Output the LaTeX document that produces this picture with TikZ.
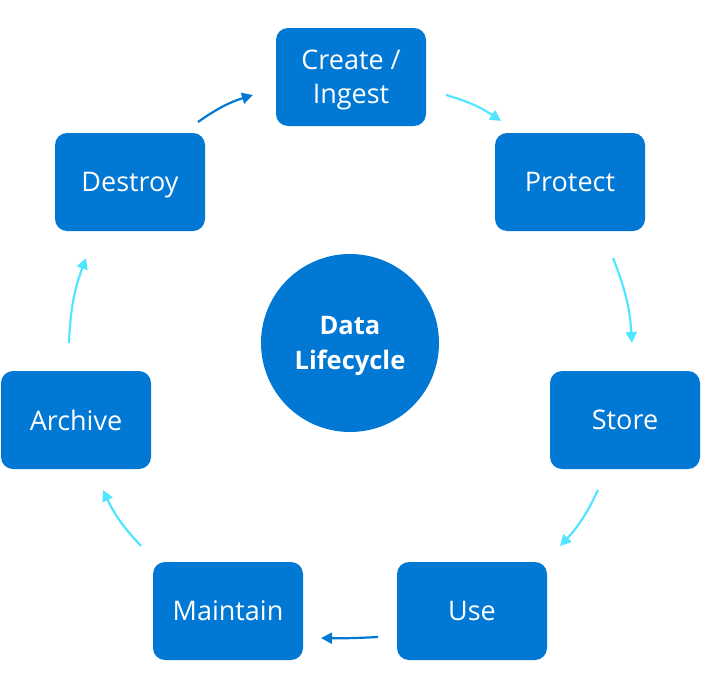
\documentclass[tikz,border=0pt]{standalone}
\usepackage{fontspec}
\setmainfont{Open Sans}
\usetikzlibrary{arrows.meta}

\definecolor{azure}{HTML}{0078D4}
\definecolor{sky}{HTML}{50E6FF}

\begin{document}
\begin{tikzpicture}[x=1pt, y=-1pt, >={Triangle[length=11pt, width=11pt]}, line width=2.2pt,
    phase/.style={rectangle, rounded corners=12pt, fill=azure, text=white, minimum width=150pt, minimum height=98pt, text depth=0pt, align=center, font=\fontsize{27}{34}\selectfont},
    hub/.style={circle, fill=azure, text=white, minimum size=178pt, text depth=0pt, align=center, font=\bfseries\fontsize{25.5}{35}\selectfont},
    light/.style={draw=sky, bend left=9},
    dark/.style={draw=azure, bend left=9}]
    \useasboundingbox (0,0) rectangle (701,688);

    % The hub
    \node[hub] (life) at (350,343) {Data\\Lifecycle};

    % Phases, clockwise from the top
    \node[phase] (create) at (351,77) {Create /\\Ingest};
    \node[phase] (protect) at (570,182) {Protect};
    \node[phase] (store) at (625,420) {Store};
    \node[phase] (use) at (472,611) {Use};
    \node[phase] (maintain) at (228,611) {Maintain};
    \node[phase] (archive) at (76,420) {Archive};
    \node[phase] (destroy) at (130,182) {Destroy};

    % Arrow ends
    \coordinate (cp0) at (446,95);
    \coordinate (cp1) at (501,121);
    \coordinate (ps0) at (613,258);
    \coordinate (ps1) at (632,343);
    \coordinate (su0) at (598,490);
    \coordinate (su1) at (560,546);
    \coordinate (um0) at (378,637);
    \coordinate (um1) at (321,638);
    \coordinate (ma0) at (141,546);
    \coordinate (ma1) at (103,490);
    \coordinate (ad0) at (69,343);
    \coordinate (ad1) at (86,258);
    \coordinate (dc0) at (198,122);
    \coordinate (dc1) at (253,95);

    \path[->]
    (cp0) edge[light] (cp1)
    (ps0) edge[light] (ps1)
    (su0) edge[light] (su1)
    (um0) edge[dark, bend left=2] (um1)
    (ma0) edge[light] (ma1)
    (ad0) edge[light] (ad1)
    (dc0) edge[dark] (dc1);
\end{tikzpicture}
\end{document}
